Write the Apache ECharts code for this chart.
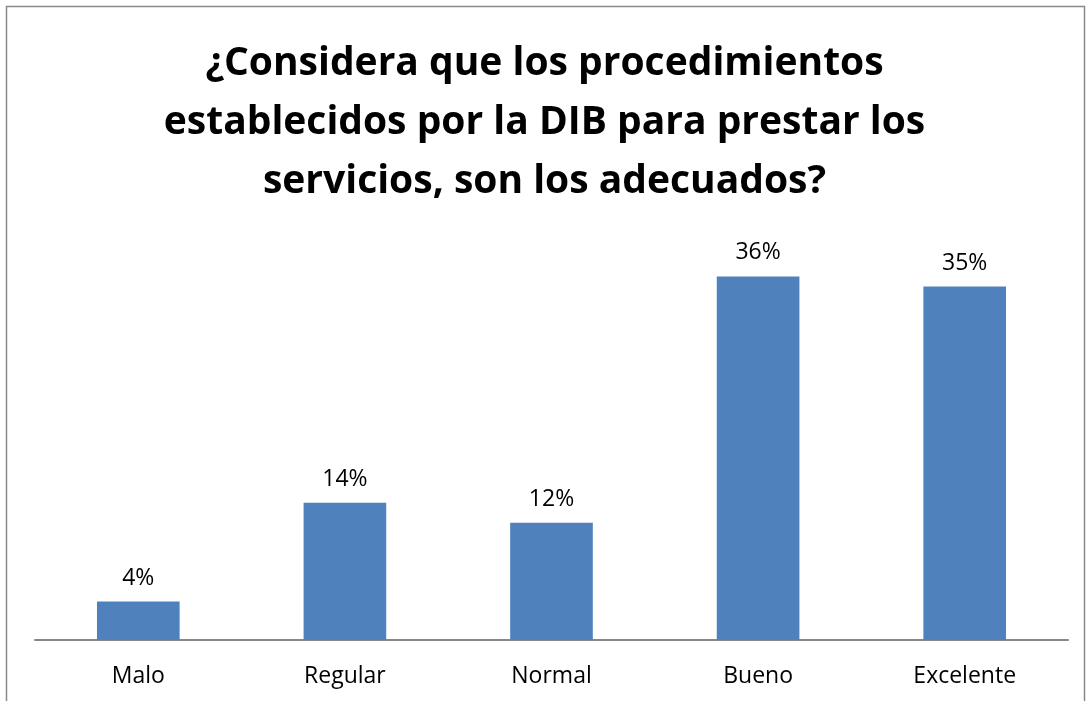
<!DOCTYPE html>
<html>
<head>
<meta charset="utf-8">
<script src="https://cdn.jsdelivr.net/npm/echarts@6/dist/echarts.min.js"></script>
<style>
  html, body { margin: 0; padding: 0; background: #fff; }
  #chart { width: 1089px; height: 701px; }
</style>
</head>
<body>
<div id="chart"></div>
<script>
// categorias y porcentajes
const categories = ['Malo', 'Regular', 'Normal', 'Bueno', 'Excelente'];
const values = [3.8, 13.6, 11.6, 36, 35];
const titleLines = [
  '¿Considera que los procedimientos',
  'establecidos por la DIB para prestar los',
  'servicios, son los adecuados?'
];

let myChart = echarts.init(document.getElementById('chart'));
let option = {
  backgroundColor: '#fff',
  animation: false,
  title: {
    text: titleLines.join('\n'),
    left: 'center',
    top: 29,
    textStyle: {
      fontFamily: 'Open Sans',
      fontWeight: 'bold',
      fontSize: 39,
      lineHeight: 59,
      color: '#000'
    }
  },
  graphic: [
    {
      type: 'rect',
      shape: { x: 6.5, y: 6.5, width: 1078, height: 720 },
      style: { fill: 'none', stroke: '#888', lineWidth: 1.5 },
      silent: true
    }
  ],
  grid: { left: 35, right: 21, top: 236, bottom: 61 },
  xAxis: {
    type: 'category',
    data: categories,
    axisLine: { lineStyle: { color: '#888', width: 2 } },
    axisTick: { show: false },
    axisLabel: {
      margin: 25,
      fontFamily: 'Open Sans',
      fontSize: 23,
      color: '#000'
    }
  },
  yAxis: {
    type: 'value',
    min: 0,
    max: 40,
    show: false,
    splitLine: { show: false }
  },
  series: [
    {
      type: 'bar',
      data: values,
      barWidth: '40%',
      itemStyle: { color: '#4F81BD' },
      label: {
        show: true,
        position: 'top',
        distance: 12,
        fontFamily: 'Open Sans',
        fontSize: 23,
        color: '#000',
        formatter: p => Math.round(p.value) + '%'
      }
    }
  ]
};
myChart.setOption(option);
</script>
</body>
</html>
